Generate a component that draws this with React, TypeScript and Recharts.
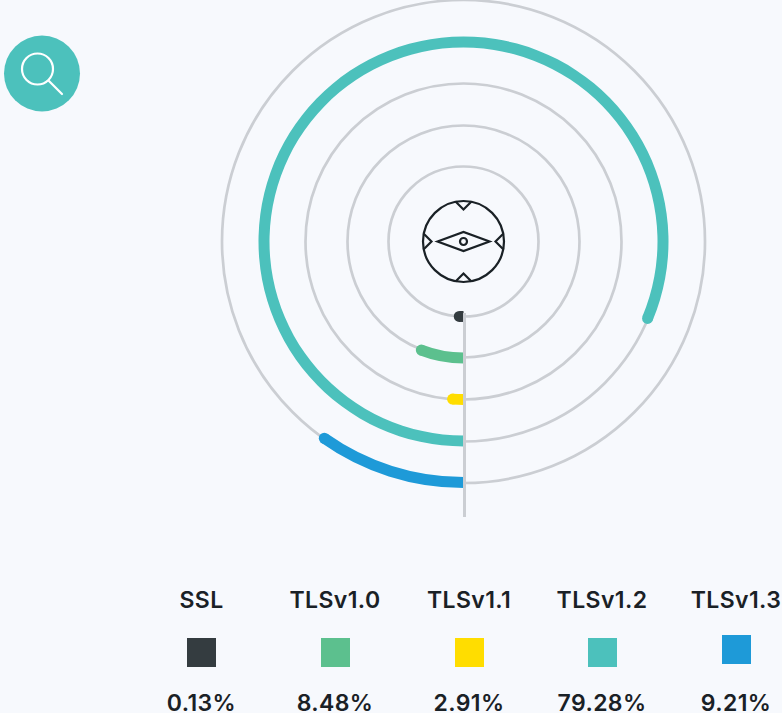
import React from "react";
import { RadialBarChart, RadialBar, PolarGrid, PolarAngleAxis, Sector, Cell } from "recharts";

const protocols = ["SSL", "TLSv1.0", "TLSv1.1", "TLSv1.2", "TLSv1.3"];
const shareLabels = ["0.13%", "8.48%", "2.91%", "79.28%", "9.21%"];
// arc length as drawn, percent of the full circle (the drawn arcs differ from the printed shares)
const arcValues = [0.9, 5.9, 1.1, 81.3, 9.8];
const colors = ["#343c40", "#5cc08e", "#ffdd00", "#4cc1bc", "#1e9ad8"];
const ringRadii = [75, 116, 158, 200, 241.5];

const legendCenters = [201.5, 335, 469, 602, 736];
const swatchTops = [638, 638, 638, 638, 635];

const data = protocols.map((name, i) => ({ name, value: arcValues[i] }));

const BG = "#f7f9fd";
const INK = "#1a2126";
const GRID = "#cbced3";
const CX = 463.5;
const CY = 241.5;

// flat where the arc starts, round where it ends
const RoundEndArc = (props: any) => {
  const { cx, cy, innerRadius, outerRadius, startAngle, endAngle, fill } = props;
  const mid = (innerRadius + outerRadius) / 2;
  const rad = (endAngle * Math.PI) / 180;
  return (
    <g>
      <Sector
        cx={cx}
        cy={cy}
        innerRadius={innerRadius}
        outerRadius={outerRadius}
        startAngle={startAngle}
        endAngle={endAngle}
        fill={fill}
      />
      <circle
        cx={cx + mid * Math.cos(rad)}
        cy={cy - mid * Math.sin(rad)}
        r={(outerRadius - innerRadius) / 2}
        fill={fill}
      />
    </g>
  );
};

const Overlay = () => (
  <svg
    width={782}
    height={713}
    style={{ position: "absolute", left: 0, top: 0, pointerEvents: "none" }}
  >
    <line x1={464.5} y1={313} x2={464.5} y2={517} stroke={GRID} strokeWidth={3} />
    <circle cx={42} cy={73.5} r={38} fill="#4cc1bc" />
    <circle cx={37.5} cy={69} r={15.5} fill="none" stroke="#fff" strokeWidth={2.2} />
    <line x1={49} y1={81} x2={62} y2={94} stroke="#fff" strokeWidth={2.2} strokeLinecap="round" />
    <g fill="none" stroke={INK} strokeWidth={2.2}>
      <circle cx={CX} cy={CY} r={40.5} />
      <path d={`M${CX - 26} ${CY} L${CX} ${CY - 9.5} L${CX + 26} ${CY} L${CX} ${CY + 9.5} Z`} />
      <circle cx={CX} cy={CY} r={3.5} />
      <path d={`M${CX - 8} ${CY - 40} L${CX} ${CY - 32} L${CX + 8} ${CY - 40}`} />
      <path d={`M${CX - 8} ${CY + 40} L${CX} ${CY + 32} L${CX + 8} ${CY + 40}`} />
      <path d={`M${CX - 40} ${CY - 8} L${CX - 32} ${CY} L${CX - 40} ${CY + 8}`} />
      <path d={`M${CX + 40} ${CY - 8} L${CX + 32} ${CY} L${CX + 40} ${CY + 8}`} />
    </g>
  </svg>
);

const centered = (x: number, y: number): React.CSSProperties => ({
  position: "absolute",
  left: x - 70,
  top: y,
  width: 140,
  textAlign: "center",
  fontFamily: "Inter, sans-serif",
  fontWeight: 600,
  fontSize: 23,
  letterSpacing: 0.4,
  lineHeight: "20px",
  color: INK,
  whiteSpace: "nowrap",
});

export default function App() {
  return (
    <div style={{ position: "relative", width: 782, height: 713, overflow: "hidden", background: BG }}>
      <style>{`body{margin:0;background:${BG}}`}</style>
      <RadialBarChart
        width={782}
        height={713}
        cx={CX}
        cy={CY}
        data={data}
        innerRadius={54.5}
        outerRadius={262}
        startAngle={-90}
        endAngle={-450}
        barSize={11}
        margin={{ top: 0, right: 0, bottom: 0, left: 0 }}
      >
        <PolarAngleAxis type="number" domain={[0, 100]} tick={false} axisLine={false} />
        <PolarGrid
          gridType="circle"
          polarRadius={ringRadii}
          polarAngles={[]}
          radialLines={false}
          stroke={GRID}
          strokeWidth={2.7}
        />
        <RadialBar dataKey="value" isAnimationActive={false} shape={RoundEndArc}>
          {data.map((d, i) => (
            <Cell key={d.name} fill={colors[i]} />
          ))}
        </RadialBar>
      </RadialBarChart>
      <Overlay />
      {protocols.map((p, i) => (
        <React.Fragment key={p}>
          <div style={centered(legendCenters[i], 590)}>{p}</div>
          <div
            style={{
              position: "absolute",
              left: legendCenters[i] - 14.5,
              top: swatchTops[i],
              width: 29,
              height: 29,
              background: colors[i],
            }}
          />
          <div style={centered(legendCenters[i], 693)}>{shareLabels[i]}</div>
        </React.Fragment>
      ))}
    </div>
  );
}
